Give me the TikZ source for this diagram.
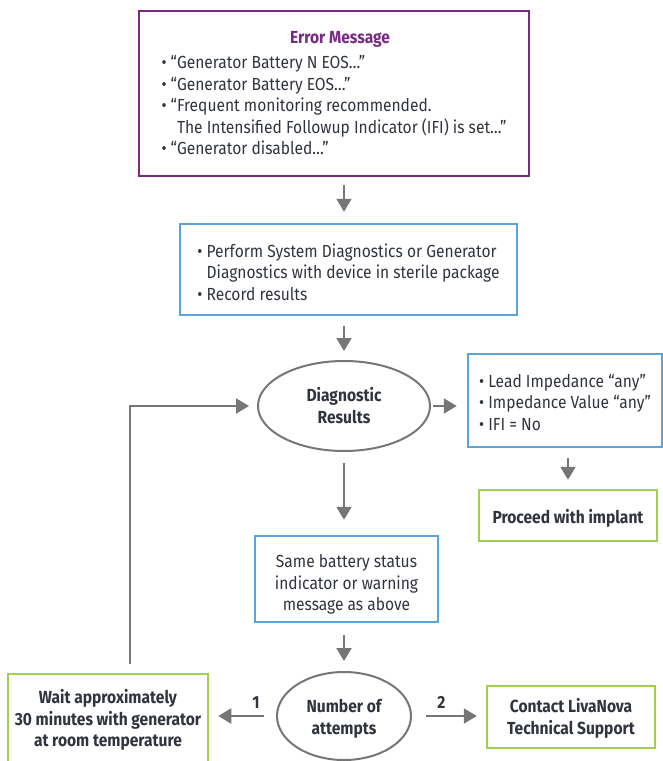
\documentclass[tikz,border=0pt]{standalone}
\usepackage{fontspec}
\setmainfont{Fira Sans}[FakeStretch=0.89]
\usetikzlibrary{shapes.geometric,arrows.meta}
\definecolor{purp}{HTML}{7A2A82}
\definecolor{bluec}{HTML}{5BA3D9}
\definecolor{greenc}{HTML}{A3CF4E}
\definecolor{grayc}{HTML}{767676}
\definecolor{txt}{HTML}{30343F}
\tikzset{
  base/.style={font=\fontsize{17.5}{21.5}\selectfont, text=txt, inner sep=0pt},
  pbox/.style={base, draw=purp, line width=2.5pt, rectangle},
  bbox/.style={base, draw=bluec, line width=2.5pt, rectangle},
  gbox/.style={base, draw=greenc, line width=2.5pt, rectangle, font=\fontsize{17.5}{21.5}\selectfont\bfseries},
  oval/.style={base, draw=grayc, line width=2pt, ellipse, font=\fontsize{17.5}{21.5}\selectfont\bfseries},
  arr/.style={draw=grayc, line width=2.2pt, -{Triangle[length=13pt,width=15pt]}},
  lbl/.style={base, font=\fontsize{17.5}{21.5}\selectfont\bfseries}
}
\newcommand{\bl}{•\ }
\newcommand{\dn}[2]{\raisebox{-#1}[\height][\depth]{#2}}
\begin{document}
\begin{tikzpicture}[x=1pt,y=-1pt]
\useasboundingbox (0,0) rectangle (663,761);
\node[pbox, minimum width=390pt, minimum height=165pt] (err) at (334,93.5)
 {\dn{1pt}{\begin{tabular}{@{}l@{}}
  \multicolumn{1}{@{}c@{}}{\hspace*{12pt}\textcolor{purp}{\bfseries Error Message}}\\[4pt]
  \bl“Generator Battery N EOS…”\\
  \bl“Generator Battery EOS…”\\
  \bl“Frequent monitoring recommended.\\
  \phantom{\bl“}The Intensified Followup Indicator (IFI) is set…”\\
  \bl“Generator disabled…”
 \end{tabular}}};
\node[bbox, minimum width=337pt, minimum height=91pt] (diagrun) at (348.5,269.5)
 {\dn{5pt}{\begin{tabular}{@{}l@{}}
  \bl Perform System Diagnostics or Generator\\
  \phantom{\bl}Diagnostics with device in sterile package\\
  \bl Record results
 \end{tabular}}};
\node[oval, minimum width=172pt, minimum height=90pt] (diag) at (344,406)
 {\dn{2pt}{\begin{tabular}{@{}c@{}}Diagnostic\\Results\end{tabular}}};
\node[bbox, minimum width=194pt, minimum height=93pt] (anyres) at (565,400.5)
 {\dn{4pt}{\begin{tabular}{@{}l@{}}
  \bl Lead Impedance “any”\\
  \bl Impedance Value “any”\\
  \bl IFI = No
 \end{tabular}}};
\node[gbox, minimum width=178pt, minimum height=51pt] (proceed) at (568,515.5) {\dn{3pt}{Proceed with implant}};
\node[bbox, minimum width=183pt, minimum height=86pt] (same) at (346.5,579)
 {\dn{6pt}{\begin{tabular}{@{}c@{}}Same battery status\\indicator or warning\\message as above\end{tabular}}};
\node[oval, minimum width=134pt, minimum height=88pt] (attempts) at (344,716)
 {\dn{3pt}{\begin{tabular}{@{}c@{}}Number of\\attempts\end{tabular}}};
\node[gbox, minimum width=200pt, minimum height=92pt] (wait) at (108,720)
 {\dn{1pt}{\begin{tabular}{@{}c@{}}Wait approximately\\30 minutes with generator\\at room temperature\end{tabular}}};
\node[gbox, minimum width=168pt, minimum height=62pt] (contact) at (571,717)
 {\dn{2pt}{\begin{tabular}{@{}c@{}}Contact LivaNova\\Technical Support\end{tabular}}};
\coordinate (loopstart) at (130,664);

\draw[arr, shorten <=8pt, shorten >=11pt] (err.south -| diag) -- (diagrun.north -| diag);
\draw[arr, shorten <=10pt, shorten >=9pt] (diagrun.south -| diag) -- (diag.north);
\draw[arr, shorten <=2pt, shorten >=10pt] (diag.east) -- (diag.east -| anyres.west);
\draw[arr, shorten <=10pt, shorten >=9pt] (anyres.south -| proceed) -- (proceed.north);
\draw[arr, shorten <=11pt, shorten >=15pt] (diag.south) -- (same.north -| diag);
\draw[arr, shorten <=12pt, shorten >=10pt] (same.south -| diag) -- (attempts.north);
\draw[arr, shorten <=12pt, shorten >=9pt] (attempts.west) -- node[lbl, pos=0.3, above=6pt] {1} (attempts.west -| wait.east);
\draw[arr, shorten <=14pt, shorten >=9pt] (attempts.east) -- node[lbl, pos=0.4, above=6pt] {2} (attempts.east -| contact.west);
\draw[arr, shorten >=8pt] (loopstart) |- (diag.west);
\end{tikzpicture}
\end{document}
